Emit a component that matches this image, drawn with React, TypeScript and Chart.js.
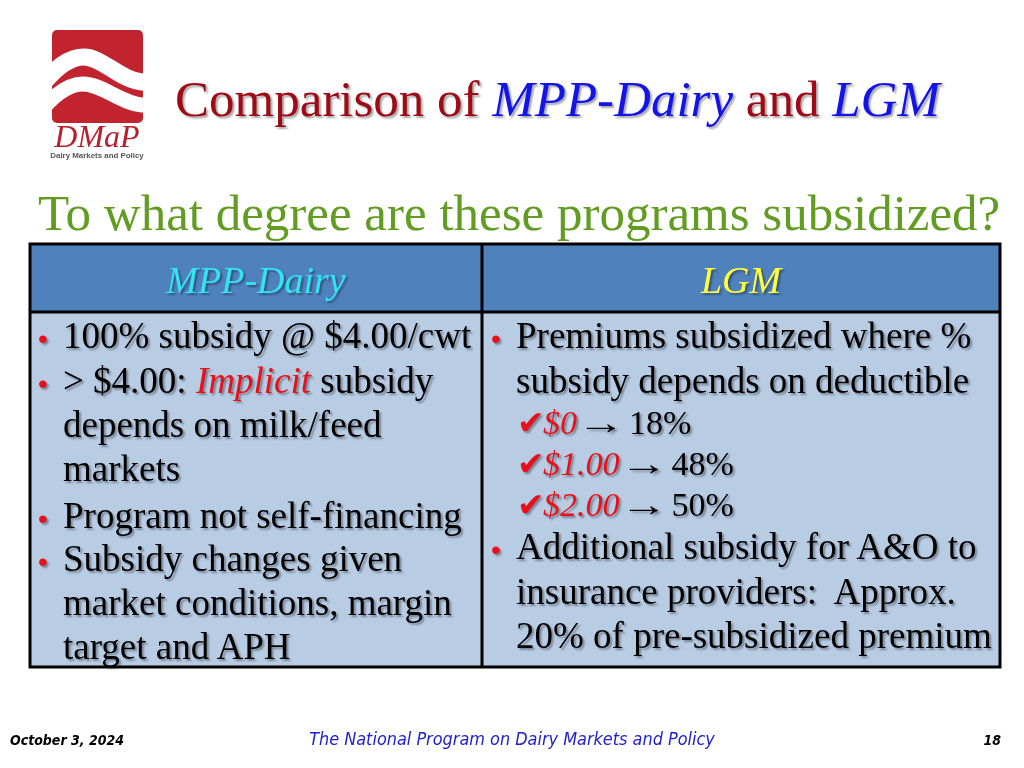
import React, { useEffect, useRef } from "react";
import { Chart, registerables } from "chart.js";

Chart.register(...registerables);

// ---- Slide content (data) ----
const titleLead = "Comparison of ";
const titleProgramA = "MPP-Dairy";
const titleJoin = " and ";
const titleProgramB = "LGM";
const subtitle = "To what degree are these programs subsidized?";
const columnHeaders = ["MPP-Dairy", "LGM"];
const deductibles = ["$0", "$1.00", "$2.00"];
const subsidyRates = [18, 48, 50];
const footerDate = "October 3, 2024";
const footerProgram = "The National Program on Dairy Markets and Policy";
const footerPage = "18";

const SERIF = '"Liberation Serif", "Times New Roman", serif';
const SANS = '"Liberation Sans", Arial, sans-serif';
const NARROW = '"Liberation Sans Narrow", "DejaVu Sans Condensed", "Roboto Condensed", "Liberation Sans", sans-serif';
const SHADOW = "2px 2px 2px rgba(0,0,0,0.35)";

const slidePlugin = {
  id: "slideBackdrop",
  beforeDraw(chart: any) {
    const ctx: CanvasRenderingContext2D = chart.ctx;
    const W = chart.width;
    const H = chart.height;
    ctx.save();
    ctx.fillStyle = "#ffffff";
    ctx.fillRect(0, 0, W, H);

    // logo square
    ctx.save();
    ctx.beginPath();
    (ctx as any).roundRect(52, 30, 91, 93, 5);
    ctx.fillStyle = "#C1232F";
    ctx.fill();
    ctx.clip();
    ctx.strokeStyle = "#ffffff";
    ctx.lineCap = "butt";
    ctx.lineWidth = 17;
    ctx.beginPath();
    ctx.moveTo(38, 90);
    ctx.bezierCurveTo(56, 66, 70, 57, 84, 57);
    ctx.bezierCurveTo(102, 57, 120, 80, 142, 82);
    ctx.lineTo(152, 82);
    ctx.stroke();
    ctx.lineWidth = 15;
    ctx.beginPath();
    ctx.moveTo(38, 114);
    ctx.bezierCurveTo(56, 92, 70, 84, 83, 84);
    ctx.bezierCurveTo(102, 84, 120, 103, 142, 105);
    ctx.lineTo(152, 105);
    ctx.stroke();
    ctx.restore();

    // table
    const L = 30, R = 1000, T = 244, HB = 312, B = 667, MID = 482;
    ctx.fillStyle = "#4F81BD";
    ctx.fillRect(L, T, R - L, HB - T);
    ctx.fillStyle = "#B8CCE4";
    ctx.fillRect(L, HB, R - L, B - HB);
    ctx.strokeStyle = "#000000";
    ctx.lineWidth = 3;
    ctx.strokeRect(L, T, R - L, B - T);
    ctx.beginPath();
    ctx.moveTo(L, HB);
    ctx.lineTo(R, HB);
    ctx.moveTo(MID, T);
    ctx.lineTo(MID, B);
    ctx.stroke();
    ctx.restore();
  },
};

type LineProps = {
  x: number;
  base: number;
  size: number;
  center?: boolean;
  right?: boolean;
  style?: React.CSSProperties;
  children?: React.ReactNode;
};

function Line({ x, base, size, center, right, style, children }: LineProps) {
  const s: React.CSSProperties = {
    position: "absolute",
    top: base - 0.3375 * size,
    fontSize: size,
    lineHeight: 0,
    whiteSpace: "pre",
    fontFamily: SERIF,
    color: "#000",
    textShadow: SHADOW,
    ...style,
  };
  if (center) {
    s.left = x;
    s.transform = "translateX(-50%)";
  } else if (right) {
    s.right = 1024 - x;
  } else {
    s.left = x;
  }
  return <div style={s}>{children}</div>;
}

const Bullet = ({ x, base }: { x: number; base: number }) => (
  <Line x={x} base={base} size={28} style={{ color: "#E8101A", fontFamily: SANS, textShadow: SHADOW }}>
    {"•"}
  </Line>
);

const red: React.CSSProperties = { color: "#E8101A", fontStyle: "italic" };

export default function App() {
  const canvasRef = useRef<HTMLCanvasElement | null>(null);

  useEffect(() => {
    const canvas = canvasRef.current;
    if (!canvas) return;
    const chart = new Chart(canvas, {
      type: "bar",
      data: { labels: deductibles, datasets: [] },
      options: {
        responsive: false,
        animation: false,
        events: [],
        layout: { padding: 0 },
        plugins: { legend: { display: false }, tooltip: { enabled: false }, title: { display: false } },
        scales: { x: { display: false }, y: { display: false } },
      },
      plugins: [slidePlugin],
    });
    return () => chart.destroy();
  }, []);

  const bodySize = 37;
  const leftText = 63;
  const rightText = 516;

  return (
    <div style={{ position: "absolute", left: 0, top: 0, width: 1024, height: 768, overflow: "hidden", background: "#fff" }}>
      <canvas ref={canvasRef} width={1024} height={768} style={{ position: "absolute", left: 0, top: 0, width: 1024, height: 768 }} />

      {/* logo text */}
      <Line x={97} base={147} size={32} center style={{ color: "#B7202E", fontStyle: "italic", textShadow: "none" }}>
        DMaP
      </Line>
      <Line x={97} base={159} size={7.9} center style={{ color: "#555", fontFamily: SANS, fontWeight: "bold", textShadow: "none" }}>
        Dairy Markets and Policy
      </Line>

      {/* title */}
      <Line x={175} base={116} size={51} style={{ color: "#9E0A16" }}>
        {titleLead}
        <span style={{ color: "#1414E6", fontStyle: "italic" }}>{titleProgramA}</span>
        {titleJoin}
        <span style={{ color: "#1414E6", fontStyle: "italic" }}>{titleProgramB}</span>
      </Line>

      {/* subtitle */}
      <Line x={38} base={230} size={51} style={{ color: "#629C22", textShadow: "none" }}>
        {subtitle}
      </Line>

      {/* headers */}
      <Line x={256} base={293} size={38} center style={{ color: "#33E3F2", fontStyle: "italic" }}>
        {columnHeaders[0]}
      </Line>
      <Line x={741} base={293} size={38} center style={{ color: "#FFFF3A", fontStyle: "italic" }}>
        {columnHeaders[1]}
      </Line>

      {/* left column */}
      <Bullet x={38} base={348} />
      <Line x={leftText} base={348} size={bodySize}>100% subsidy @ $4.00/cwt</Line>
      <Bullet x={38} base={393} />
      <Line x={leftText} base={393} size={bodySize}>
        {"> $4.00: "}
        <span style={red}>Implicit</span>
        {" subsidy"}
      </Line>
      <Line x={leftText} base={437} size={bodySize}>depends on milk/feed</Line>
      <Line x={leftText} base={481} size={bodySize}>markets</Line>
      <Bullet x={38} base={528} />
      <Line x={leftText} base={528} size={bodySize}>Program not self-financing</Line>
      <Bullet x={38} base={571} />
      <Line x={leftText} base={571} size={bodySize}>Subsidy changes given</Line>
      <Line x={leftText} base={615} size={bodySize}>market conditions, margin</Line>
      <Line x={leftText} base={659} size={bodySize}>target and APH</Line>

      {/* right column */}
      <Bullet x={491} base={348} />
      <Line x={rightText} base={348} size={bodySize}>Premiums subsidized where %</Line>
      <Line x={rightText} base={393} size={bodySize}>subsidy depends on deductible</Line>
      {deductibles.map((d, i) => (
        <Line key={d} x={rightText + 1} base={434 + i * 41} size={34}>
          <span style={{ display: "inline-block", width: 26, color: "#E8101A", fontFamily: '"DejaVu Sans", sans-serif', fontSize: 33 }}>✔</span>
          <span style={red}>{d}</span>
          <span style={{ display: "inline-block", width: 32, marginLeft: 0, marginRight: 20, transform: "scaleX(1.4)", transformOrigin: "left center" }}>→</span>
          {subsidyRates[i] + "%"}
        </Line>
      ))}
      <Bullet x={491} base={559} />
      <Line x={rightText} base={559} size={bodySize}>Additional subsidy for A&amp;O to</Line>
      <Line x={rightText} base={604} size={bodySize}>insurance providers:  Approx.</Line>
      <Line x={rightText} base={648} size={bodySize}>20% of pre-subsidized premium</Line>

      {/* footer */}
      <Line x={10} base={745} size={14} style={{ fontFamily: NARROW, fontWeight: "bold", fontStyle: "italic", textShadow: "none" }}>
        {footerDate}
      </Line>
      <Line x={512} base={745} size={17.9} center style={{ fontFamily: NARROW, fontStyle: "italic", color: "#2020D0", textShadow: "none" }}>
        {footerProgram}
      </Line>
      <Line x={1001} base={745} size={14} right style={{ fontFamily: NARROW, fontWeight: "bold", fontStyle: "italic", textShadow: "none" }}>
        {footerPage}
      </Line>
    </div>
  );
}
